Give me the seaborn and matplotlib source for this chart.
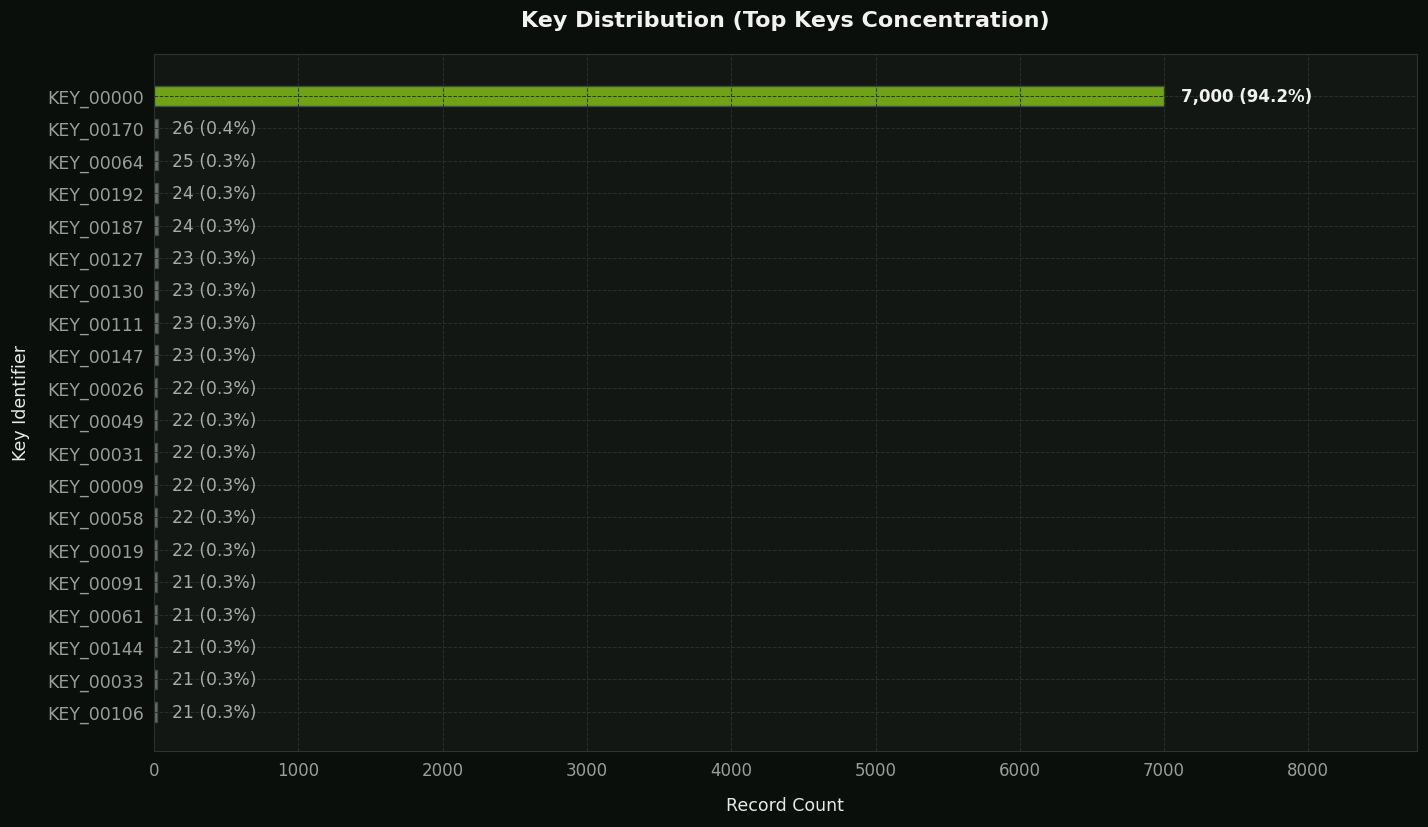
import matplotlib
matplotlib.use("Agg")
import matplotlib.pyplot as plt
import seaborn as sns
import pandas as pd

keys = ["KEY_00000","KEY_00170","KEY_00064","KEY_00192","KEY_00187","KEY_00127","KEY_00130",
        "KEY_00111","KEY_00147","KEY_00026","KEY_00049","KEY_00031","KEY_00009","KEY_00058",
        "KEY_00019","KEY_00091","KEY_00061","KEY_00144","KEY_00033","KEY_00106"]
counts = [7000,26,25,24,24,23,23,23,23,22,22,22,22,22,22,21,21,21,21,21]
pcts = [94.2,0.4,0.3,0.3,0.3,0.3,0.3,0.3,0.3,0.3,0.3,0.3,0.3,0.3,0.3,0.3,0.3,0.3,0.3,0.3]

sns.set_style("dark")
plt.rcParams['font.family'] = ['DejaVu Sans']
fig, ax = plt.subplots(figsize=(14.28, 8.28), dpi=100)
fig.patch.set_facecolor("#0b0f0c")
ax.set_facecolor("#121714")

df = pd.DataFrame({"key": keys, "count": counts})
colors = ["#76b900"] + ["#6a706c"] * (len(keys) - 1)
sns.barplot(data=df, y="key", x="count", hue="key", palette=colors, legend=False,
            ax=ax, orient="h", edgecolor="#3f4f3f", linewidth=1, width=0.6)

ax.set_xlim(0, 8750)
ax.set_ylim(len(keys) - 0.5 + 0.7, -0.5 - 0.8)
ax.grid(True, color="#2a302c", linestyle="--", linewidth=0.7)
ax.set_axisbelow(False)
for s in ax.spines.values():
    s.set_color("#2e3430")

for i, (c, p) in enumerate(zip(counts, pcts)):
    if i == 0:
        ax.text(c + 120, i, f"{c:,} ({p:.1f}%)", va="center", ha="left",
                color="#f0f0f0", fontsize=12, fontweight="bold")
    else:
        ax.text(c + 100, i, f"{c:,} ({p:.1f}%)", va="center", ha="left",
                color="#a8aca9", fontsize=12.3)

ax.tick_params(axis="y", colors="#9a9e9b", labelsize=12.5, length=4)
ax.tick_params(axis="x", colors="#9a9e9b", labelsize=12, length=4)
ax.set_xlabel("Record Count", color="#e8e8e8", fontsize=12.5, labelpad=12)
ax.set_ylabel("Key Identifier", color="#e8e8e8", fontsize=12.5, labelpad=12)
ax.set_title("Key Distribution (Top Keys Concentration)", color="#f2f2f2",
             fontsize=16, fontweight="bold", pad=20)

fig.subplots_adjust(left=0.108, right=0.992, top=0.934, bottom=0.092)
fig.savefig("out.png", dpi=100, facecolor=fig.get_facecolor())
